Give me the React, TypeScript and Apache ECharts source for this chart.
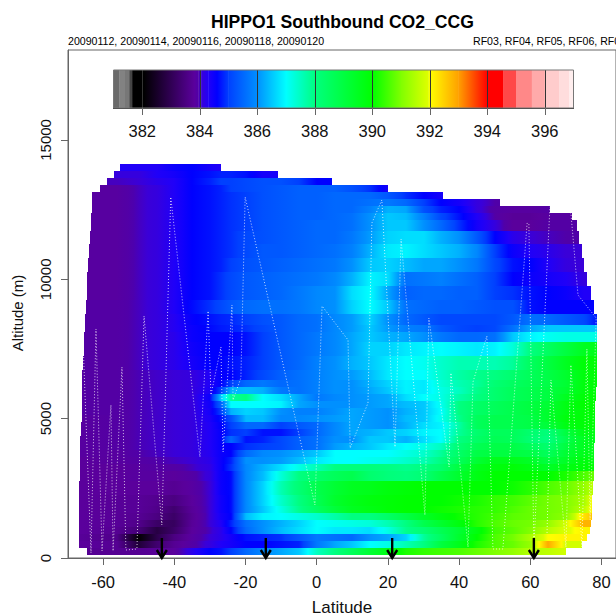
import React, { useEffect, useRef } from "react";
import * as echarts from "echarts";

const titleText = "HIPPO1 Southbound CO2_CCG";
const datesText = "20090112, 20090114, 20090116, 20090118, 20090120";
const flightsText = "RF03, RF04, RF05, RF06, RF07";
const latTicks = [-60, -40, -20, 0, 20, 40, 60, 80];
const altTicks = [0, 5000, 10000, 15000];
const legendTicks = [382, 384, 386, 388, 390, 392, 394, 396];
const arrowLats = [-43.5, -14.3, 21.2, 61];

const paletteValues = [381, 381.2, 381.2, 381.4, 381.4, 381.55, 381.55, 381.65, 381.65, 382.05, 383.8, 383.95, 384.05, 384.3, 384.6, 385, 386, 387, 388, 390, 391, 391.95, 392, 393, 394, 394.55, 394.55, 395, 395, 395.55, 395.55, 396, 396, 396.5, 396.5, 396.85, 396.85, 397];
const paletteColors = ["#6a6a6a", "#6a6a6a", "#828282", "#828282", "#777777", "#777777", "#444444", "#444444", "#000000", "#000000", "#5a009c", "#5000a8", "#3a00d8", "#2000f8", "#0000ff", "#0040ff", "#0090ff", "#00ffff", "#00ff80", "#00ff00", "#80ff00", "#e0ff00", "#ffff00", "#ffa000", "#ff0000", "#ff0000", "#ff4848", "#ff4848", "#ff8888", "#ff8888", "#ffaaaa", "#ffaaaa", "#ffcccc", "#ffcccc", "#ffdddd", "#ffdddd", "#ffeeee", "#ffeeee"];

const CO2_BASE = 380;
const _ = null;
const columnLats = [-66, -56, -50, -45, -40, -35, -30, -27, -24, -20, -15, -10, -5, 0, 5, 10, 15, 20, 25, 30, 35, 40, 45, 50, 55, 60, 65, 70, 75, 78];
const rowAlts = [14000, 13750, 13500, 13250, 13000, 12750, 12500, 12250, 12000, 11500, 11000, 10500, 10000, 9500, 9000, 8500, 8250, 8000, 7500, 7000, 6500, 6250, 6000, 5750, 5500, 5250, 5000, 4750, 4500, 4250, 4000, 3750, 3500, 3250, 3000, 2500, 2000, 1750, 1500, 1250, 1000, 750, 500, 250];
const rowWest = [-55.2, -57, -59, -61, -63.1, -63.1, -63.2, -63.3, -63.4, -63.7, -64, -64.2, -64.4, -64.6, -64.8, -65, -65.1, -65.3, -65.5, -65.7, -65.8, -65.9, -66, -66, -66, -66, -66, -66.2, -66.3, -66.4, -66.5, -66.5, -66.5, -66.6, -66.6, -66.8, -66.8, -66.8, -66.8, -66.8, -66.8, -66.8, -66.8, -64.5];
const rowEast = [-26.9, -11, 4.3, 20, 35.6, 51.5, 65.5, 71.7, 73, 73.6, 74.5, 75.1, 75.9, 77, 78, 78.6, 78.8, 78.8, 78.8, 78.8, 78.6, 78.6, 78.5, 78.4, 78.3, 78.2, 78.2, 78.2, 78.1, 78.1, 78, 78, 77.9, 77.8, 77.8, 77.6, 77.4, 77.3, 77.3, 77.1, 76.7, 75.8, 74.4, 70];
const co2Rows = [
  [_,_,4.3,4.3,4.5,4.6,4.4,4.3],
  [_,_,4.1,4.3,4.4,4.6,4.7,4.8,4.8,4.7,4.4],
  [_,4,4.05,4.2,4.3,4.6,4.8,5,5,5.1,5.2,5.2,5,4.6],
  [_,3.85,4,4.1,4.3,4.6,4.7,4.8,5,5.1,5.2,5.3,5.4,5.4,5.4,5.2,4.9,4.4],
  [_,3.85,4,4.1,4.3,4.6,4.7,4.8,4.9,5,5.2,5.3,5.4,5.4,5.5,5.5,5.5,5.3,4.9,4.6,4.4],
  [_,3.85,4,4.1,4.3,4.6,4.7,4.8,4.9,5,5.2,5.3,5.4,5.4,5.5,5.5,5.6,5.7,5.5,5,4.6,4.4,4.1,3.95],
  [_,3.85,4,4.1,4.3,4.6,4.7,4.8,4.9,5,5.2,5.3,5.4,5.4,5.5,5.5,5.8,6.3,6.2,5.2,4.8,4.6,4.1,3.9,3.85,3.85,3.9],
  [_,3.85,4,4.1,4.3,4.6,4.7,4.8,4.9,5,5.2,5.3,5.4,5.4,5.5,5.6,6,6.5,6.4,5.8,5.1,4.7,4.3,3.9,3.75,3.75,3.85,3.85],
  [_,3.85,4,4.1,4.3,4.6,4.7,4.8,4.9,5,5.2,5.3,5.4,5.5,5.5,5.6,6,6.5,6.5,6,5.5,4.9,4.4,4.1,3.8,3.8,3.9,3.9],
  [_,3.85,4,4.1,4.3,4.6,4.7,4.8,4.9,5.1,5.2,5.3,5.4,5.5,5.5,5.7,6.1,6.6,6.7,6.7,6.3,6,5.3,4.6,4.2,4.05,4,3.95],
  [_,3.85,4,4.1,4.3,4.6,4.7,4.8,4.9,5.1,5.3,5.3,5.4,5.5,5.6,5.8,6.3,6.8,6.9,6.7,6.5,6.3,5.9,5,4.5,4.3,4.2,4.05],
  [_,3.85,4,4.1,4.3,4.6,4.7,4.8,5,5.2,5.3,5.4,5.5,5.6,5.7,6,6.5,6.6,6.4,6.2,6.2,6,5.7,5.1,4.7,4.6,4.3,4.1,4.05],
  [_,3.85,4,4.1,4.3,4.6,4.7,4.9,5.1,5.3,5.4,5.5,5.6,5.7,5.9,6.3,6.9,6.7,5.6,5.7,5.8,5.6,5.4,5,4.6,4.5,4.4,4.3,4.1],
  [_,3.85,4,4.1,4.3,4.6,4.7,4.9,5.1,5.3,5.4,5.5,5.7,5.9,6,6.7,7,6.2,5.4,5.5,5.5,5.4,5.4,5,4.9,4.7,4.6,4.5,4.3],
  [_,3.9,4,4.1,4.3,4.65,4.9,5.1,5.3,5.5,5.6,5.6,5.7,5.9,6,6.6,7,6.5,5.6,5.5,5.4,5.4,5.3,5.2,5.2,4.7,4.6,4.6,4.6],
  [_,3.9,4,4.1,4.25,4.55,4.7,4.8,4.85,5,5.2,5.3,5.5,5.6,5.9,6.1,6.6,6,5.5,5.3,5.1,5.1,5.1,5.1,5.3,5.6,5.5,5.3,5.1,4.8],
  [_,3.9,4,4.1,4.25,4.5,4.65,4.75,4.8,4.9,5.1,5.3,5.5,5.6,5.9,6.1,6.5,6.1,5.8,5.7,5.3,5.1,5,5.1,5.6,6.2,6.5,6.5,6.5,6.5],
  [_,3.9,4,4.1,4.2,4.5,4.6,4.6,4.6,4.7,5,5.3,5.5,5.7,5.9,6.2,6.5,6.3,6.2,6,5.7,5.5,5.5,5.6,6.5,6.9,7.1,7.2,7.2,7.2],
  [_,3.9,4,4.1,4.2,4.45,4.6,4.6,4.6,4.7,5,5.3,5.5,5.7,5.9,6.2,6.6,6.6,6.8,6.9,7,6.9,6.8,6.9,7.3,8,8.5,9,9.5,9.6],
  [_,3.9,4,4.1,4.2,4.4,4.6,4.6,4.7,4.8,5,5.3,5.5,5.8,6,6.3,6.5,6.8,7,7.1,7.4,7.6,7.6,7.6,7.8,8.5,9,9.5,9.9,9.9],
  [_,3.9,3.98,4.02,4.05,4.1,4.3,4.55,4.6,4.8,5.1,5.4,5.6,5.8,6,6.1,6.4,6.8,7,7,7.4,7.7,7.9,8,8.3,8.6,8.9,9.3,9.8,9.9],
  [_,3.9,3.98,4.02,4.05,4.1,4.3,4.6,5,5.5,5.7,5.5,5.6,5.8,6,6,6.3,6.6,6.9,6.8,7.3,7.6,7.8,8.2,8.5,8.7,8.9,9.2,9.8,9.9],
  [_,3.9,3.98,4.02,4.05,4.1,4.35,5,6.3,6.4,6.3,5.7,5.6,5.8,6,6,6.2,6.5,6.9,6.8,7.2,7.5,7.9,8.3,8.6,8.8,9,9.3,9.8,9.9],
  [_,3.9,3.98,4.02,4.05,4.1,4.5,6.5,7.8,8,7,6.7,6.2,5.7,5.9,6,6.1,6.2,6.7,7,7.2,7.7,8,8.3,8.6,8.8,9,9.5,9.9,10],
  [_,3.9,3.98,4.02,4.05,4.1,4.45,5.4,7,7,7,6.9,6.2,6,6,6,6.1,6.2,6.4,6.5,7.1,8,8.4,8.6,8.8,9,9.2,9.7,10,10],
  [_,3.9,3.98,4.02,4.05,4.1,4.4,5,6.3,6.6,6.5,6,5.8,5.8,6,6.2,6.1,6,6.3,6.5,7,8,8.4,8.6,8.8,9,9.3,9.7,9.9,10],
  [3.85,3.9,3.98,4.02,4.05,4.1,4.35,4.7,5.2,6.4,6.4,5.9,5.9,6,6.1,6.2,6.1,6,6.4,6.5,7.1,7.9,8.6,8.8,8.8,8.9,9.3,9.8,9.9,9.9],
  [3.85,3.9,3.98,4.02,4.05,4.1,4.3,4.6,5,5.5,5.5,5,5.3,5.5,5.9,6.2,6.1,6,6.3,6.7,6.9,7.7,8.6,8.8,8.8,8.9,9.1,9.7,9.9,9.9],
  [3.85,3.9,3.98,4.02,4.05,4.1,4.3,4.55,4.9,5,4.7,4.7,5,5.5,5.9,6.2,6.3,6.5,6.6,6.9,7,7.8,8.3,8.6,8.6,8.3,8.1,9,9.7,9.7],
  [3.85,3.9,3.98,4.02,4.05,4.1,4.3,4.55,5.5,4.7,4.8,5.1,5.4,5.6,6,6,6.5,6.5,6.3,6.7,7,8,8.4,8.7,8.6,8.2,8,8.8,9.5,9.6],
  [3.85,3.9,3.98,4.02,4.05,4.1,4.3,4.55,4.6,4.9,5,5.1,5.4,5.6,6.1,6.3,6.5,6.8,7,7.2,7.5,8.2,8.7,8.9,8.9,8.6,8.3,9,9.5,9.6],
  [3.85,3.85,3.95,4,4.05,4.1,4.25,4.5,4.6,5.5,5.9,6,6.2,6.5,7,7,7,7,7.2,7.4,7.8,8.4,8.9,9,9,8.9,8.6,9.2,9.6,9.7],
  [3.8,3.85,3.9,3.95,4,4.05,4.2,4.5,4.8,6,6,6.1,6.4,6.8,7,7,7.1,7.2,7.4,7.6,8,8.6,9.2,9.6,9.6,9.4,9,9.4,9.8,9.8],
  [3.8,3.8,3.85,3.9,3.9,4,4.15,4.5,4.9,5.9,6.3,6.7,7.2,7.6,8,8.1,8.1,8,7.9,8,8.3,9,9.6,9.8,9.9,9.7,9.4,9.7,9.9,10],
  [3.8,3.8,3.85,3.85,3.8,3.9,4.1,4.5,4.65,5.9,6.4,7.3,8,8.3,8.6,8.8,8.3,8.1,8,8.2,8.8,9.3,9.7,10,10,10,10,10.2,10.6,10.8],
  [3.8,3.8,3.8,3.8,3.7,3.85,4.05,4.5,4.65,5.9,6.6,7.6,8.2,8.8,9.2,9.5,9.6,9.8,9.9,10,10,10,10,10,10.1,10.3,10.6,10.8,11.2,11.6],
  [3.8,3.75,3.75,3.65,3.5,3.8,4.05,4.45,4.65,5.9,6.6,7.4,8,8.7,9.3,9.6,9.8,9.9,10,10,10,10.1,10.2,10.4,10.5,10.7,10.9,11,11.4,12],
  [3.8,3.75,3.75,3.6,3.3,3.75,4.05,4.45,4.65,5.9,6.5,7.2,7.9,8.5,9.1,9.5,9.7,9.9,10,10,10.1,10.2,10.3,10.4,10.6,10.8,10.9,11,11.6,12.1],
  [3.8,3.75,3.7,3.5,3.2,3.7,4.05,4.4,4.6,6.4,6.9,7,7.2,7.4,7.7,8,8,8.4,8.9,9.4,9.8,10.1,10.3,10.5,10.7,10.8,10.9,11.1,12.3,12.6],
  [3.8,3.75,3.6,3.2,3.1,3.75,4.05,4.3,4.8,5.6,6,6.3,6.6,7,7.1,7.2,7.3,7.6,8,8.8,9.3,9.8,10.3,10.6,10.8,10.9,11.2,11.8,12.8],
  [3.8,3.7,3.4,2.8,3.2,3.8,4,4.2,4.6,5.5,6,6.4,6.7,7,6.8,6.8,6.7,7.2,7.9,8.2,8.7,9.2,9.8,10.5,10.7,11,11.5,11.9,12.1],
  [3.75,3.6,2.1,2.9,3.5,3.85,4.05,4.2,4.4,4.7,4.8,4.9,5.3,5.7,5.6,5.5,6,6.2,6.6,7.8,8.5,9.3,10,10.6,10.9,11.4,12,12.1,12.1],
  [3.8,3.7,2.7,3.3,3.7,3.9,4.1,4.3,4.4,4.6,4.6,4.7,4.8,5.7,6.2,6.5,7,7.2,7.6,8,9,9.6,10.2,10.6,10.8,11.2,12.9,11.8],
  [_,3.7,3.7,3.75,3.8,4.2,4.6,4.7,5,5.5,5.9,6.2,6.5,7.5,8,8.6,9.2,9.7,10.2,10.4,10.5,10.6,10.8,11,11.2,11.5,11.6,11.8],
];

const trackLats = [-65.6, -63.4, -62, -60.3, -57.8, -57.2, -54.7, -53.6, -50.5, -48.5, -43.5, -41, -32.8, -30.5, -29.7, -26.9, -26.3, -23.8, -23.5, -21.3, -20.1, -0.5, 1.5, 8.8, 9.4, 14.4, 15.5, 18.3, 22, 23.7, 30.4, 31.5, 37.2, 37.7, 42.5, 43.9, 47.8, 49.5, 52.3, 59.1, 59.6, 61, 65.5, 71.4, 73.4, 78.5, 76.8, 75.9, 74.5, 71.4, 70, 65.8, 64.7];
const trackAlts = [7643, 179, 8217, 251, 5490, 251, 6853, 287, 323, 8683, 1184, 12953, 3624, 8863, 5849, 7571, 3803, 9078, 5669, 6459, 12953, 1902, 9042, 7822, 3947, 5562, 12020, 12845, 3983, 11446, 1543, 8611, 3265, 6638, 395, 6315, 7966, 323, 323, 12020, 11984, 395, 12594, 12379, 9437, 8611, 1363, 7499, 395, 6925, 395, 6387, 897];

const FONT = "Liberation Sans";
const INK = "#111111";
const AXIS_GRAY = "#666666";

function hexToRgb(h: string) {
  return [parseInt(h.slice(1, 3), 16), parseInt(h.slice(3, 5), 16), parseInt(h.slice(5, 7), 16)];
}
function colorOf(v: number) {
  const n = paletteValues.length;
  if (v <= paletteValues[0]) return paletteColors[0];
  if (v >= paletteValues[n - 1]) return paletteColors[n - 1];
  for (let i = 0; i < n - 1; i++) {
    const a = paletteValues[i], b = paletteValues[i + 1];
    if (v >= a && v <= b && b > a) {
      const t = (v - a) / (b - a);
      const ca = hexToRgb(paletteColors[i]), cb = hexToRgb(paletteColors[i + 1]);
      return `rgb(${ca.map((c, k) => Math.round(c + (cb[k] - c) * t)).join(",")})`;
    }
  }
  return paletteColors[n - 1];
}
function gradient(vA: number, vB: number) {
  const stops = [0, 0.25, 0.5, 0.75, 1].map((t) => ({ offset: t, color: colorOf(vA + (vB - vA) * t) }));
  return new echarts.graphic.LinearGradient(0, 0, 1, 0, stops);
}

// [latFrom, latTo, altBottom, altTop, co2From, co2To]
const cells: number[][] = [];
rowAlts.forEach((alt, r) => {
  const up = r === 0 ? alt + 125 : (alt + rowAlts[r - 1]) / 2;
  const down = r === rowAlts.length - 1 ? alt - 125 : (alt + rowAlts[r + 1]) / 2;
  const row = co2Rows[r];
  const present: number[] = [];
  columnLats.forEach((_lat, i) => {
    if (row[i] != null) present.push(i);
  });
  const west = rowWest[r], east = rowEast[r];
  const first = present[0], last = present[present.length - 1];
  const push = (a: number, b: number, va: number, vb: number) => {
    const l = Math.max(a, west), h = Math.min(b, east);
    if (h > l) cells.push([l, h, down, up, CO2_BASE + va, CO2_BASE + vb]);
  };
  if (columnLats[first] > west) push(west, columnLats[first], row[first] as number, row[first] as number);
  for (let k = 0; k < present.length - 1; k++) {
    const i = present[k], j = present[k + 1];
    push(columnLats[i], columnLats[j], row[i] as number, row[j] as number);
  }
  if (columnLats[last] < east) push(columnLats[last], east, row[last] as number, row[last] as number);
});

const legendCells: number[][] = [];
for (let i = 0; i < paletteValues.length - 1; i++) {
  if (paletteValues[i + 1] > paletteValues[i]) legendCells.push([paletteValues[i], paletteValues[i + 1], i]);
}

export default function App() {
  const ref = useRef<HTMLDivElement>(null);
  useEffect(() => {
    document.body.style.margin = "0";
    const chart = echarts.init(ref.current as HTMLDivElement, undefined, { renderer: "svg" });
    const axisLine = { show: true, onZero: false, lineStyle: { color: AXIS_GRAY, width: 1 } };
    chart.setOption({
      animation: false,
      backgroundColor: "#ffffff",
      textStyle: { fontFamily: FONT },
      title: [
        { text: titleText, left: 211, top: 13, padding: 0, textStyle: { fontFamily: FONT, fontSize: 17.6, fontWeight: "bold", color: "#000" } },
        { text: datesText, left: 68, top: 35, padding: 0, textStyle: { fontFamily: FONT, fontSize: 10.6, fontWeight: "normal", color: "#000" } },
        { text: flightsText, left: 473, top: 35, padding: 0, textStyle: { fontFamily: FONT, fontSize: 10.6, fontWeight: "normal", color: "#000" } },
      ],
      graphic: [
        { type: "text", x: 17, y: 313, rotation: Math.PI / 2, style: { text: "Altitude (m)", font: `15px ${FONT}`, fill: INK, textAlign: "center", textVerticalAlign: "middle" } },
      ],
      grid: [
        { left: 68, top: 50, right: 0, bottom: 57, show: true, borderColor: AXIS_GRAY, borderWidth: 1, backgroundColor: "transparent", outerBoundsMode: "none" },
        { left: 113.5, top: 70, width: 460, height: 38, show: false, outerBoundsMode: "none" },
      ],
      xAxis: [
        {
          type: "value", gridIndex: 0, min: -69.86, max: 84.07,
          name: "Latitude", nameLocation: "middle", nameGap: 41,
          nameTextStyle: { fontFamily: FONT, fontSize: 17, color: INK },
          axisLine, splitLine: { show: false },
          axisTick: { show: true, length: 7, customValues: latTicks, lineStyle: { color: AXIS_GRAY } },
          axisLabel: { customValues: latTicks, margin: 15, fontFamily: FONT, fontSize: 16.5, color: INK, formatter: (v: number) => String(v) },
        },
        {
          type: "value", gridIndex: 1, min: 381, max: 397,
          axisLine: { show: true, onZero: false, lineStyle: { color: "#333" } },
          z: 6,
          splitLine: { show: true, lineStyle: { color: "#333333", width: 1 } },
          axisTick: { show: true, length: 7, customValues: legendTicks, lineStyle: { color: AXIS_GRAY } },
          axisLabel: { customValues: legendTicks, margin: 14, fontFamily: FONT, fontSize: 16.5, color: INK, formatter: (v: number) => String(v) },
        },
      ],
      yAxis: [
        {
          type: "value", gridIndex: 0, min: 0, max: 18227,
          axisLine, splitLine: { show: false },
          axisTick: { show: true, length: 7, customValues: altTicks, lineStyle: { color: AXIS_GRAY } },
          axisLabel: { customValues: altTicks, rotate: 90, margin: 15, fontFamily: FONT, fontSize: 15, color: INK, formatter: (v: number) => String(v), hideOverlap: false },
        },
        { type: "value", gridIndex: 1, min: 0, max: 1, show: false },
      ],
      series: [
        {
          type: "custom", xAxisIndex: 0, yAxisIndex: 0, data: cells, z: 2, silent: true, clip: true,
          encode: { x: [0, 1], y: [2, 3] },
          renderItem: (_p: any, api: any) => {
            const a = api.coord([api.value(0), api.value(3)]);
            const b = api.coord([api.value(1), api.value(2)]);
            const x0 = Math.round(a[0]), x1 = Math.round(b[0]), y0 = Math.round(a[1]), y1 = Math.round(b[1]);
            if (x1 <= x0 || y1 <= y0) return null;
            return { type: "rect", shape: { x: x0, y: y0, width: x1 - x0, height: y1 - y0 }, style: { fill: gradient(api.value(4), api.value(5)) } };
          },
        },
        {
          type: "line", xAxisIndex: 0, yAxisIndex: 0, z: 3, silent: true, showSymbol: false, symbol: "none",
          data: trackLats.map((lat, i) => [lat, trackAlts[i]]),
          lineStyle: { color: "#ffffff", width: 1, type: [1, 2], opacity: 0.75 },
        },
        {
          type: "custom", xAxisIndex: 0, yAxisIndex: 0, z: 4, silent: true, clip: false,
          data: arrowLats.map((lat) => [lat, 717, 0]),
          encode: { x: 0, y: [1, 2] },
          renderItem: (_p: any, api: any) => {
            const top = api.coord([api.value(0), api.value(1)]);
            const tip = api.coord([api.value(0), api.value(2)]);
            const st = { stroke: "#000000", lineWidth: 2.4, fill: "none" };
            return {
              type: "group",
              children: [
                { type: "line", shape: { x1: top[0], y1: top[1], x2: tip[0], y2: tip[1] }, style: st },
                { type: "polyline", shape: { points: [[tip[0] - 5, tip[1] - 8], [tip[0], tip[1]], [tip[0] + 5, tip[1] - 8]] }, style: st },
              ],
            };
          },
        },
        {
          type: "custom", xAxisIndex: 1, yAxisIndex: 1, z: 2, silent: true, data: legendCells,
          encode: { x: [0, 1] },
          renderItem: (_p: any, api: any) => {
            const a = api.coord([api.value(0), 1]);
            const b = api.coord([api.value(1), 0]);
            const i = api.value(2);
            const grad = new echarts.graphic.LinearGradient(0, 0, 1, 0, [
              { offset: 0, color: paletteColors[i] },
              { offset: 1, color: paletteColors[i + 1] },
            ]);
            return { type: "rect", shape: { x: a[0], y: a[1], width: b[0] - a[0] + 0.4, height: b[1] - a[1] }, style: { fill: grad } };
          },
        },
        {
          type: "custom", xAxisIndex: 1, yAxisIndex: 1, z: 7, silent: true, data: [[381, 397]],
          encode: { x: [0, 1] },
          renderItem: (_p: any, api: any) => {
            const a = api.coord([api.value(0), 1]);
            const b = api.coord([api.value(1), 0]);
            return { type: "rect", shape: { x: a[0], y: a[1], width: b[0] - a[0], height: b[1] - a[1] }, style: { fill: "none", stroke: "#777777", lineWidth: 1 } };
          },
        },
      ],
    });
    return () => chart.dispose();
  }, []);
  return <div ref={ref} style={{ position: "absolute", left: 0, top: 0, width: 616, height: 615 }} />;
}
